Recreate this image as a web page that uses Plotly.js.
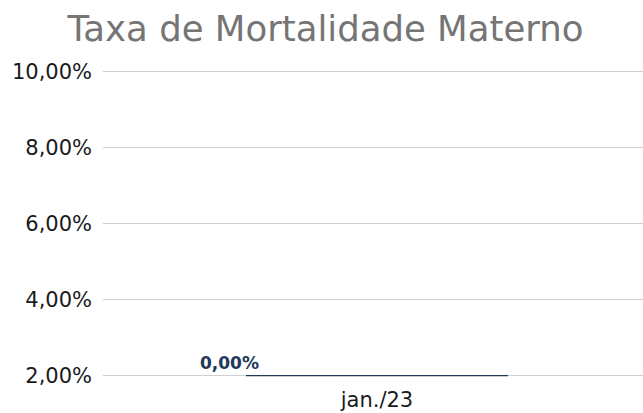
<!DOCTYPE html>
<html>
<head>
<meta charset="utf-8">
<script src="https://cdn.plot.ly/plotly-3.0.1.min.js"></script>
<style>html,body{margin:0;padding:0;background:#fff;overflow:hidden;}#chart{width:651px;height:413px;}</style>
</head>
<body>
<div id="chart"></div>
<script>
// Data
const categories = ['jan./23'];
const values = [0.0];          // Taxa de Mortalidade Materno (fraction)
const valueLabels = ['0,00%'];
const yTickVals = [0.02, 0.04, 0.06, 0.08, 0.10];
const yTickText = ['2,00%', '4,00%', '6,00%', '8,00%', '10,00%'];

const yMin = 0.0194, yMax = 0.1006;
const floorVal = yTickVals[0];
// values below the axis floor are shown flat on the floor of the axis
const shown = values.map(v => Math.max(v, floorVal));

const navy = '#22395b';
const font = 'DejaVu Sans, Verdana, sans-serif';

// zero-height column: drawn as a flat box (only its top/bottom edge is visible)
const trace = {
  type: 'box',
  x: categories,
  q1: shown, median: shown, q3: shown, lowerfence: shown, upperfence: shown,
  fillcolor: 'rgba(0,0,0,0)',
  line: {color: navy, width: 1.2},
  whiskerwidth: 0,
  boxpoints: false,
  hoverinfo: 'skip'
};

const layout = {
  width: 651, height: 413,
  margin: {l: 103, r: 0, t: 69, b: 35},
  paper_bgcolor: '#fff', plot_bgcolor: '#fff',
  showlegend: false,
  boxgap: 0.522, boxgroupgap: 0,
  title: {text: 'Taxa de Mortalidade Materno', font: {family: font, size: 35.5, color: '#757575'},
          x: 0.5, xanchor: 'center', y: 0.932, yanchor: 'middle', yref: 'container'},
  xaxis: {type: 'category', showgrid: false, zeroline: false, showline: false, ticks: '',
          ticklabelstandoff: 7,
          tickfont: {family: font, size: 21, color: '#1a1a1a'}},
  yaxis: {range: [yMin, yMax], tickvals: yTickVals, ticktext: yTickText,
          showgrid: true, gridcolor: '#cfcfcf', gridwidth: 1, zeroline: false, showline: false,
          ticks: '', ticklabelstandoff: 10,
          tickfont: {family: font, size: 21, color: '#1a1a1a'}},
  annotations: categories.map((c, i) => ({
    x: c, y: shown[i], xref: 'x', yref: 'y', text: '<b>' + valueLabels[i] + '</b>',
    showarrow: false, xanchor: 'center', yanchor: 'bottom', xshift: -148, yshift: 1,
    font: {family: font, size: 17, color: navy}
  }))
};

Plotly.newPlot('chart', [trace], layout, {displayModeBar: false, staticPlot: true});
</script>
</body>
</html>
